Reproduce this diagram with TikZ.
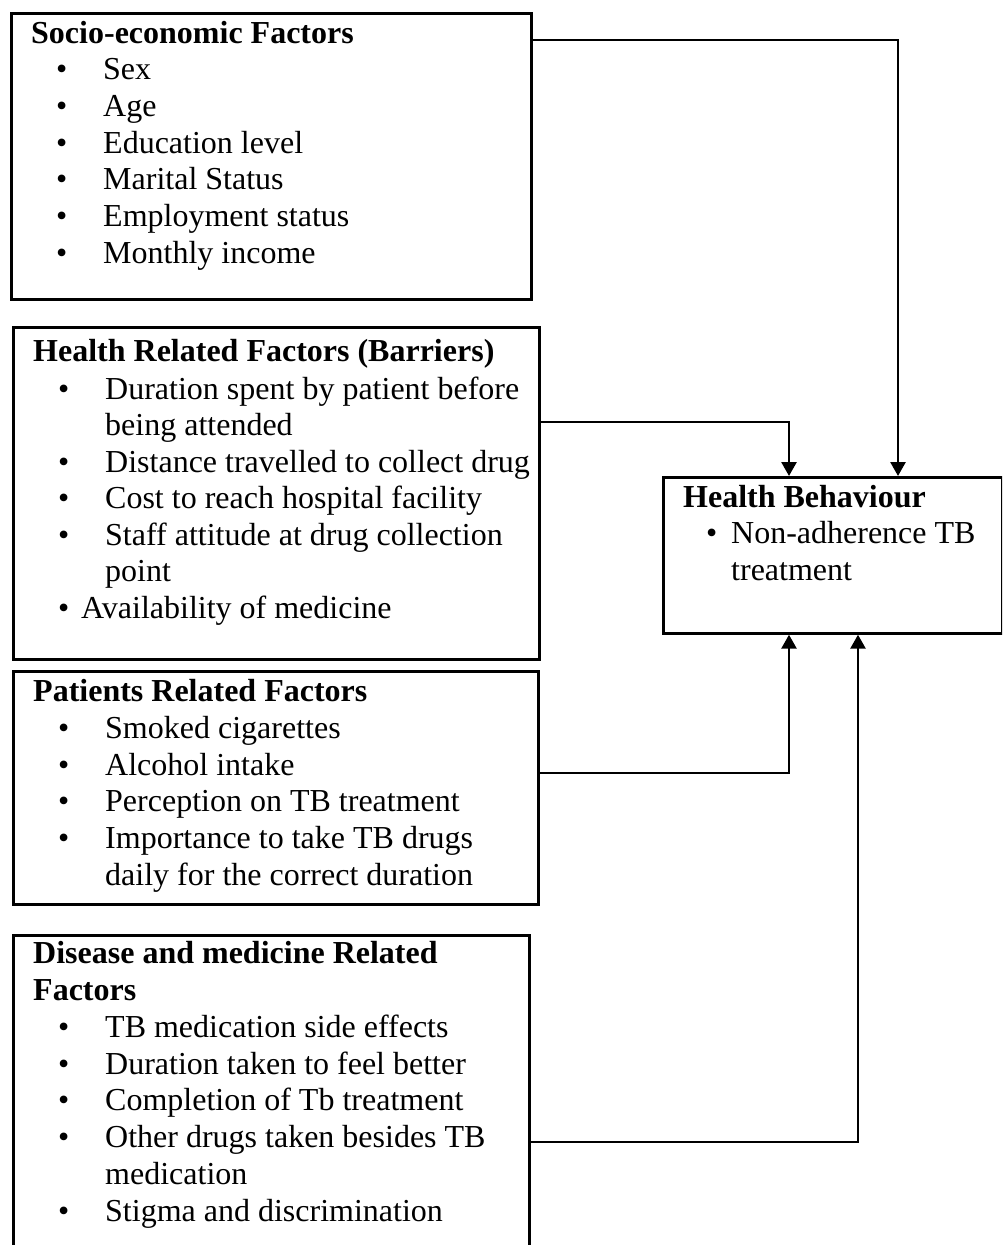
\documentclass[tikz,border=0pt]{standalone}
\usepackage{fontspec}
\setmainfont{Liberation Serif}
\usetikzlibrary{arrows.meta}
\tikzset{
  box/.style={draw, line width=2.7pt, anchor=north west, inner sep=0pt},
  ln/.style={anchor=base west, inner sep=0pt, font=\fontsize{32}{36.8}\selectfont},
  hd/.style={anchor=base west, inner sep=0pt, font=\fontsize{32}{36.8}\selectfont\bfseries},
  bul/.style={anchor=base west, inner sep=0pt, font=\fontsize{32}{36.8}\selectfont},
  arr/.style={line width=2.7pt, -{Triangle[width=15pt,length=14pt]}}
}
\begin{document}
\begin{tikzpicture}[x=1pt,y=-1pt]
\clip (0,0) rectangle (1002,1245);
\fill[white] (0,0) rectangle (1002,1245);
% boxes
\node[box, minimum width=520pt, minimum height=286pt] (se) at (10,12) {};
\node[box, minimum width=526pt, minimum height=332pt] (hr) at (12,326) {};
\node[box, minimum width=525pt, minimum height=233pt] (pr) at (12,670) {};
\node[box, minimum width=516pt, minimum height=400pt] (dm) at (12,934) {};
\node[box, minimum width=339pt, minimum height=156pt] (hb) at (662,476) {};
% socio-economic
\node[hd] (se0) at (31,43) {Socio-economic Factors};
\node[bul] (se1b) at (56,79) {\textbullet};  \node[ln] (se1) at (103,79) {Sex};
\node[bul] (se2b) at (56,116) {\textbullet}; \node[ln] (se2) at (103,116) {Age};
\node[bul] (se3b) at (56,153) {\textbullet}; \node[ln] (se3) at (103,153) {Education level};
\node[bul] (se4b) at (56,189) {\textbullet}; \node[ln] (se4) at (103,189) {Marital Status};
\node[bul] (se5b) at (56,226) {\textbullet}; \node[ln] (se5) at (103,226) {Employment status};
\node[bul] (se6b) at (56,263) {\textbullet}; \node[ln] (se6) at (103,263) {Monthly income};
% health related
\node[hd] (hr0) at (33,361) {Health Related Factors (Barriers)};
\node[bul] (hr1b) at (58,399) {\textbullet}; \node[ln] (hr1) at (105,399) {Duration spent by patient before};
\node[ln] (hr1c) at (105,435) {being attended};
\node[bul] (hr2b) at (58,472) {\textbullet}; \node[ln] (hr2) at (105,472) {Distance travelled to collect drug};
\node[bul] (hr3b) at (58,508) {\textbullet}; \node[ln] (hr3) at (105,508) {Cost to reach hospital facility};
\node[bul] (hr4b) at (58,545) {\textbullet}; \node[ln] (hr4) at (105,545) {Staff attitude at drug collection};
\node[ln] (hr4c) at (105,581) {point};
\node[bul] (hr5b) at (58,618) {\textbullet}; \node[ln] (hr5) at (81,618) {Availability of medicine};
% patients related
\node[hd] (pr0) at (33,701) {Patients Related Factors};
\node[bul] (pr1b) at (58,738) {\textbullet}; \node[ln] (pr1) at (105,738) {Smoked cigarettes};
\node[bul] (pr2b) at (58,775) {\textbullet}; \node[ln] (pr2) at (105,775) {Alcohol intake};
\node[bul] (pr3b) at (58,811) {\textbullet}; \node[ln] (pr3) at (105,811) {Perception on TB treatment};
\node[bul] (pr4b) at (58,848) {\textbullet}; \node[ln] (pr4) at (105,848) {Importance to take TB drugs};
\node[ln] (pr4c) at (105,885) {daily for the correct duration};
% disease and medicine
\node[hd] (dm0) at (33,963) {Disease and medicine Related};
\node[hd] (dm0c) at (33,1000) {Factors};
\node[bul] (dm1b) at (58,1037) {\textbullet}; \node[ln] (dm1) at (105,1037) {TB medication side effects};
\node[bul] (dm2b) at (58,1074) {\textbullet}; \node[ln] (dm2) at (105,1074) {Duration taken to feel better};
\node[bul] (dm3b) at (58,1110) {\textbullet}; \node[ln] (dm3) at (105,1110) {Completion of Tb treatment};
\node[bul] (dm4b) at (58,1147) {\textbullet}; \node[ln] (dm4) at (105,1147) {Other drugs taken besides TB};
\node[ln] (dm4c) at (105,1184) {medication};
\node[bul] (dm5b) at (58,1221) {\textbullet}; \node[ln] (dm5) at (105,1221) {Stigma and discrimination};
% health behaviour
\node[hd] (hb0) at (683,507) {Health Behaviour};
\node[bul] (hb1b) at (706,543) {\textbullet}; \node[ln] (hb1) at (731,543) {Non-adherence TB};
\node[ln] (hb1c) at (731,580) {treatment};
% connectors
\draw[arr] ([yshift=-28pt]se.north east) -| ([xshift=236pt]hb.north west);
\draw[arr] ([yshift=-96pt]hr.north east) -| ([xshift=127pt]hb.north west);
\draw[arr] ([yshift=-103pt]pr.north east) -| ([xshift=127pt]hb.south west);
\draw[arr] ([yshift=-208pt]dm.north east) -| ([xshift=196pt]hb.south west);
\end{tikzpicture}
\end{document}
